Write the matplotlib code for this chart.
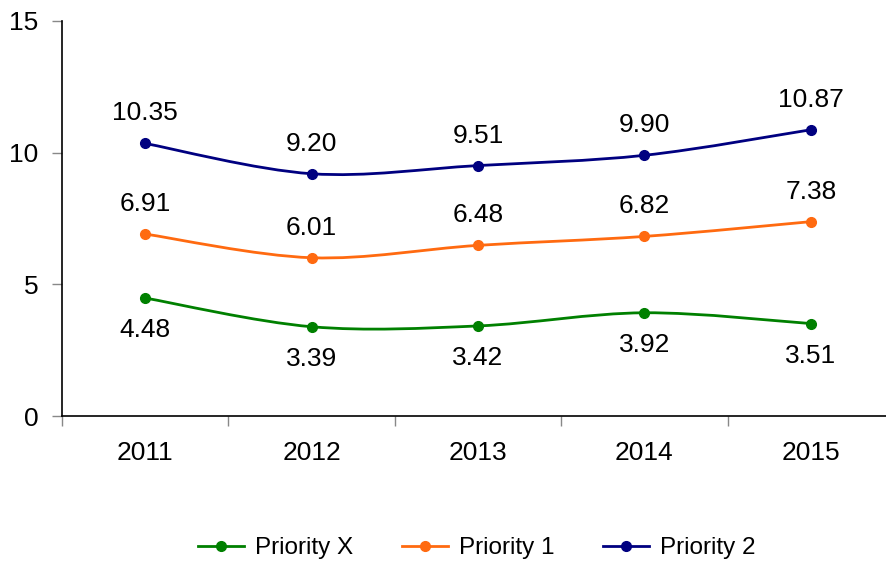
import matplotlib
matplotlib.use("Agg")
import matplotlib.pyplot as plt
from matplotlib.path import Path
from matplotlib.patches import PathPatch
from matplotlib.lines import Line2D
import numpy as np

plt.rcParams['font.family'] = ['Liberation Sans', 'DejaVu Sans']

years = ["2011", "2012", "2013", "2014", "2015"]
priority_x = [4.48, 3.39, 3.42, 3.92, 3.51]
priority_1 = [6.91, 6.01, 6.48, 6.82, 7.38]
priority_2 = [10.35, 9.20, 9.51, 9.90, 10.87]

series = [
    ("Priority X", priority_x, "#008000", "below"),
    ("Priority 1", priority_1, "#FF6A10", "above"),
    ("Priority 2", priority_2, "#000080", "above"),
]

FS = 19

fig = plt.figure(figsize=(8.87, 5.62), dpi=100)
ax = fig.add_axes([62/887, 1-416/562, 832/887, (416-21)/562])

x = np.arange(len(years))

def smooth_path(xs, ys):
    xs = np.asarray(xs, float); ys = np.asarray(ys, float)
    n = len(xs)
    verts = [(xs[0], ys[0])]
    codes = [Path.MOVETO]
    for i in range(n - 1):
        p0 = (xs[max(i-1, 0)], ys[max(i-1, 0)])
        p1 = (xs[i], ys[i])
        p2 = (xs[i+1], ys[i+1])
        p3 = (xs[min(i+2, n-1)], ys[min(i+2, n-1)])
        c1 = (p1[0] + (p2[0]-p0[0])/6, p1[1] + (p2[1]-p0[1])/6)
        c2 = (p2[0] - (p3[0]-p1[0])/6, p2[1] - (p3[1]-p1[1])/6)
        verts += [c1, c2, p2]
        codes += [Path.CURVE4]*3
    return Path(verts, codes)

handles = []
for name, vals, col, pos in series:
    patch = PathPatch(smooth_path(x, vals), facecolor='none', edgecolor=col, lw=2, zorder=3)
    ax.add_patch(patch)
    ax.plot(x, vals, 'o', color=col, ms=7, zorder=4)
    for xi, v in zip(x, vals):
        off = 30 if pos == "above" else -32
        ax.annotate(f"{v:.2f}", (xi, v), xytext=(0, off), textcoords='offset pixels',
                    ha='center', va='center', fontsize=FS, color='black')
    handles.append(Line2D([], [], color=col, lw=2, marker='o', ms=7, label=name))

ax.set_xlim(-0.5, 4.5)
ax.set_ylim(0, 15)
ax.set_yticks([0, 5, 10, 15])
ax.set_xticks(x)
ax.set_xticklabels(years)
ax.set_xticks(np.arange(-0.5, 5, 1), minor=True)
ax.tick_params(axis='x', which='major', length=0, labelsize=FS, pad=18)
ax.tick_params(axis='x', which='minor', length=7, color='#888888', width=1)
ax.tick_params(axis='y', length=7, color='#888888', width=1, labelsize=FS, pad=10)
for s in ['top', 'right']:
    ax.spines[s].set_visible(False)
ax.spines['left'].set_linewidth(1.2)
ax.spines['bottom'].set_linewidth(1.2)

fig.legend(handles=handles, loc='center', bbox_to_anchor=(477/887, 1-548/562), ncol=3,
           frameon=False, fontsize=17.5, handlelength=1.9, columnspacing=2.0,
           handletextpad=0.45, borderpad=0, borderaxespad=0)

fig.savefig("out.png", dpi=100)
